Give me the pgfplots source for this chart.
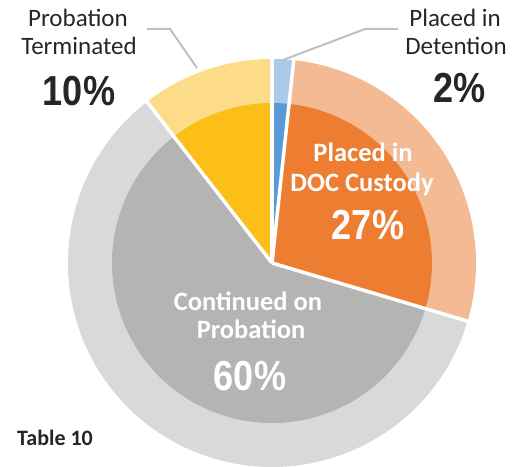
\documentclass[border=0pt]{standalone}
\usepackage{pgfplots}
\usepackage{pgfplotstable}
\pgfplotsset{compat=1.18}
\usepackage{fontspec}
\setmainfont{Carlito}
\newfontfamily\numfont{Liberation Sans}
\definecolor{oBlue}{HTML}{A9CBE9}
\definecolor{iBlue}{HTML}{5B9BD5}
\definecolor{oOrange}{HTML}{F4BA93}
\definecolor{iOrange}{HTML}{ED7D31}
\definecolor{oGray}{HTML}{D9D9D9}
\definecolor{iGray}{HTML}{B4B4B3}
\definecolor{oYellow}{HTML}{FDDC89}
\definecolor{iYellow}{HTML}{FBBF18}
\definecolor{leader}{HTML}{BFBFBF}
\definecolor{txt}{HTML}{262626}

\pgfplotstableread{
label value inner outer
Detention 1.7 iBlue oBlue
DOC 27.9 iOrange oOrange
Continued 59.9 iGray oGray
Terminated 10.5 iYellow oYellow
}\piedata

\newcommand{\bignum}[1]{\scalebox{0.86}[1]{\numfont\bfseries\fontsize{42}{44}\selectfont #1}}

\begin{document}
\begin{tikzpicture}
\begin{axis}[
  x=1pt, y=1pt,
  xmin=-272, xmax=257, ymin=-203, ymax=263,
  hide axis, clip=true,
]
\pgfplotstablegetrowsof{\piedata}
\pgfmathtruncatemacro\N{\pgfplotsretval-1}
\def\cum{0}
\pgfplotsforeachungrouped \i in {0,...,\N}{%
  \pgfplotstablegetelem{\i}{value}\of\piedata \let\v\pgfplotsretval
  \pgfplotstablegetelem{\i}{outer}\of\piedata \let\co\pgfplotsretval
  \pgfplotstablegetelem{\i}{inner}\of\piedata \let\ci\pgfplotsretval
  \pgfmathsetmacro\a{90-3.6*\cum}%
  \pgfmathsetmacro\b{90-3.6*(\cum+\v)}%
  \edef\temp{%
    \noexpand\fill[\co] (axis cs:0,0) -- (axis cs:{204*cos(\a)},{204*sin(\a)}) arc[start angle=\a, end angle=\b, radius=204pt] -- cycle;
    \noexpand\fill[\ci] (axis cs:0,0) -- (axis cs:{160*cos(\a)},{160*sin(\a)}) arc[start angle=\a, end angle=\b, radius=160pt] -- cycle;
  }\temp
  \pgfmathsetmacro\cum{\cum+\v}%
}
\def\cum{0}
\pgfplotsforeachungrouped \i in {0,...,\N}{%
  \pgfplotstablegetelem{\i}{value}\of\piedata \let\v\pgfplotsretval
  \pgfmathsetmacro\a{90-3.6*\cum}%
  \edef\temp{%
    \noexpand\draw[white, line width=3.5pt] (axis cs:0,0) -- (axis cs:{207*cos(\a)},{207*sin(\a)});
  }\temp
  \pgfmathsetmacro\cum{\cum+\v}%
}
% leader lines
\draw[leader, line width=2pt] (axis cs:-125,234) -- (axis cs:-102,234) -- (axis cs:-75,195);
\draw[leader, line width=2pt] (axis cs:11,203) -- (axis cs:93,234) -- (axis cs:126,234);
% outside labels
\node[anchor=base, text=txt, font=\fontsize{25}{28}\selectfont, inner sep=0] at (axis cs:-194,236) {Probation};
\node[anchor=base, text=txt, font=\fontsize{25}{28}\selectfont, inner sep=0] at (axis cs:-193,208) {Terminated};
\node[anchor=base, text=txt, inner sep=0] at (axis cs:-193,157) {\bignum{10\%}};
\node[anchor=base, text=txt, font=\fontsize{25}{28}\selectfont, inner sep=0] at (axis cs:183,236) {Placed in};
\node[anchor=base, text=txt, font=\fontsize{25}{28}\selectfont, inner sep=0] at (axis cs:184,208) {Detention};
\node[anchor=base, text=txt, inner sep=0] at (axis cs:188,160) {\bignum{2\%}};
% inside labels
\node[anchor=base, text=white, font=\bfseries\fontsize{26.5}{28}\selectfont, inner sep=0] at (axis cs:91,101) {Placed in};
\node[anchor=base, text=white, font=\bfseries\fontsize{26.5}{28}\selectfont, inner sep=0] at (axis cs:90,71) {DOC Custody};
\node[anchor=base, text=white, inner sep=0] at (axis cs:96,23) {\bignum{27\%}};
\node[anchor=base, text=white, font=\bfseries\fontsize{26.5}{28}\selectfont, inner sep=0] at (axis cs:-24,-47) {Continued on};
\node[anchor=base, text=white, font=\bfseries\fontsize{26.5}{28}\selectfont, inner sep=0] at (axis cs:-21,-75) {Probation};
\node[anchor=base, text=white, inner sep=0] at (axis cs:-22,-127) {\bignum{60\%}};
\node[anchor=base west, text=txt, font=\bfseries\fontsize{22}{24}\selectfont, inner sep=0] at (axis cs:-255,-182) {Table 10};
\end{axis}
\pgfresetboundingbox
\useasboundingbox (current axis.south west) rectangle (current axis.north east);
\end{tikzpicture}
\end{document}
